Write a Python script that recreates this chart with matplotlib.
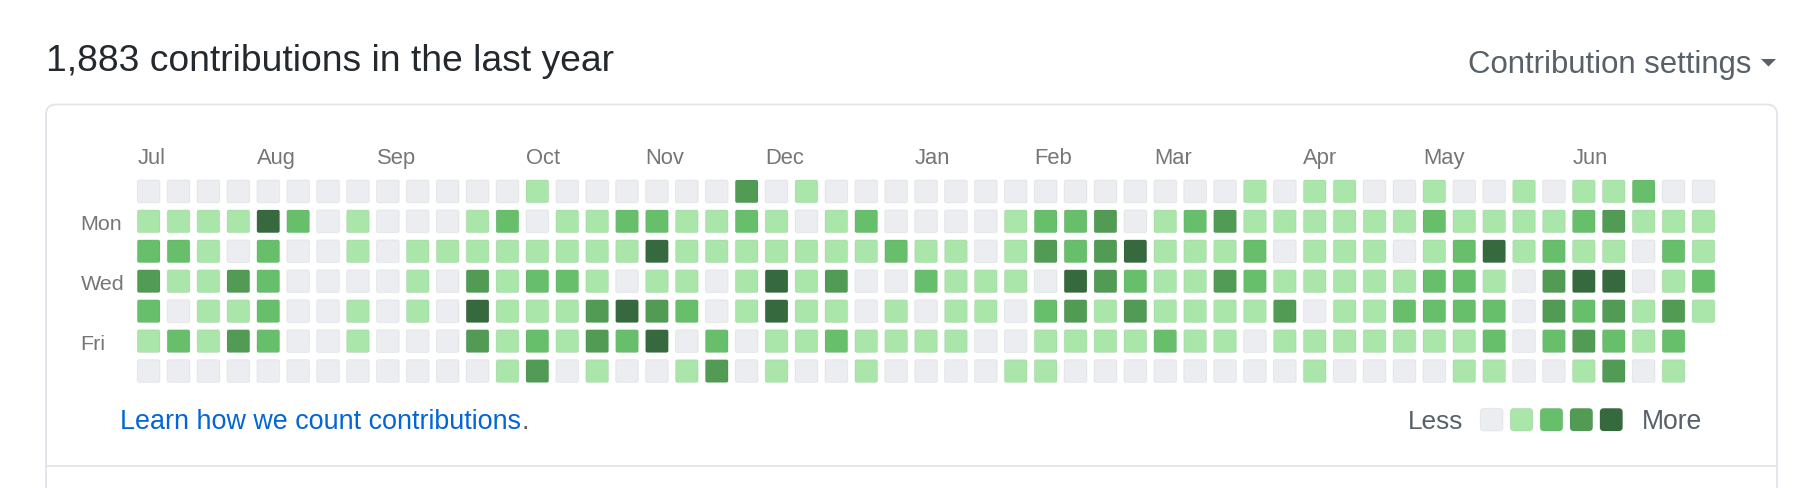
import matplotlib
matplotlib.use("Agg")
import matplotlib.pyplot as plt
from matplotlib.patches import FancyBboxPatch, Polygon
from matplotlib.lines import Line2D

plt.rcParams['font.family'] = ['Liberation Sans', 'DejaVu Sans']

# ---------------- data ----------------
title = "1,883 contributions in the last year"
months = ["Jul", "Aug", "Sep", "Oct", "Nov", "Dec", "Jan", "Feb", "Mar", "Apr", "May", "Jun"]
month_cols = [0, 4, 8, 13, 17, 21, 26, 30, 34, 39, 43, 48]
day_labels = {1: "Mon", 3: "Wed", 5: "Fri"}

sun = [0,0,0,0,0,0,0,0,0,0,0,0,0,1,0,0,0,0,0,0,3,0,1,0,0,0,0,0,0,0,0,0,0,0,0,0,0,1,0,1,1,0,0,1,0,0,1,0,1,1,2,0,0]
mon = [1,1,1,1,4,2,0,1,0,0,0,1,2,0,1,1,2,2,1,1,2,1,0,1,2,0,0,0,0,1,2,2,3,0,1,2,3,1,1,1,1,1,1,2,1,1,1,1,2,3,1,1,1]
tue = [2,2,1,0,2,0,0,1,0,1,1,1,1,1,1,1,1,4,1,1,1,1,1,1,1,2,1,1,0,1,3,2,3,4,1,1,1,2,0,1,1,1,0,1,2,4,1,2,1,1,0,2,1]
wed = [3,1,1,3,2,0,0,0,0,1,0,3,1,2,2,1,0,1,1,0,1,4,1,3,0,0,2,1,1,1,0,4,3,2,1,1,3,2,1,1,1,1,1,2,2,1,0,3,4,4,0,1,2]
thu = [2,0,1,1,2,0,0,1,0,1,0,4,1,1,1,3,4,3,2,0,1,4,1,1,0,1,0,1,1,0,2,3,1,3,1,1,1,1,3,0,1,1,2,2,2,2,0,3,2,3,1,3,1]
fri = [1,2,1,3,2,0,0,1,0,0,0,3,1,2,1,3,2,4,0,2,0,1,1,2,1,1,1,1,0,0,1,1,1,1,2,1,1,0,1,1,1,1,1,1,1,2,0,2,3,2,1,2,None]
sat = [0,0,0,0,0,0,0,0,0,0,0,0,1,3,0,1,0,0,1,3,0,1,0,0,1,0,0,0,0,1,1,0,0,0,0,0,0,0,0,1,0,0,0,0,1,1,0,0,1,3,0,1,None]
weeks_rows = [sun, mon, tue, wed, thu, fri, sat]

level_colors = ["#ebedf0", "#aae5aa", "#67bf6b", "#519b55", "#366a3e"]

# ---------------- layout (pixels) ----------------
W, H = 1796, 488
fig = plt.figure(figsize=(W / 100, H / 100), dpi=100)
fig.patch.set_facecolor("white")

def pt(px):
    return px * 0.72

# background axes in pixel coordinates
bg = fig.add_axes([0, 0, 1, 1])
bg.set_xlim(0, W)
bg.set_ylim(H, 0)
bg.axis("off")

border = "#e1e4e8"
box = FancyBboxPatch((46, 104.5), 1777 - 46, 430, boxstyle="round,pad=0,rounding_size=10",
                     facecolor="none", edgecolor=border, linewidth=1.3)
bg.add_patch(box)
bg.add_line(Line2D([46, 1777], [466, 466], color=border, linewidth=1.3))

bg.text(46, 71, title, fontsize=pt(37.2), color="#24292e", va="baseline", ha="left")
bg.text(1751, 73.3, "Contribution settings", fontsize=pt(31.2), color="#586069",
        va="baseline", ha="right")
bg.add_patch(Polygon([[1761, 59], [1776, 59], [1768.5, 66.5]], closed=True,
                     facecolor="#586069", edgecolor="none"))

learn = bg.text(120, 429, "Learn how we count contributions", fontsize=pt(26.9),
                color="#0366d6", va="baseline", ha="left")
fig.canvas.draw()
bb = learn.get_window_extent()
x_end = bg.transData.inverted().transform((bb.x1, bb.y0))[0]
bg.text(x_end, 429, ".", fontsize=pt(26.9), color="#586069", va="baseline", ha="left")

bg.text(1408.3, 429, "Less", fontsize=pt(26.2), color="#586069", va="baseline", ha="left")
bg.text(1642.3, 429, "More", fontsize=pt(26.5), color="#586069", va="baseline", ha="left")

# grid axes: one data unit = one week column / one weekday row
gx0, gy0 = 137.3, 180.0
px_x, px_y = 29.9, 29.95
ncol = len(sun)
gw, gh = ncol * px_x, 7 * px_y
ax = fig.add_axes([gx0 / W, 1 - (gy0 + gh) / H, gw / W, gh / H])
ax.set_xlim(0, ncol)
ax.set_ylim(7, 0)
ax.axis("off")

cell = 22.7 / px_x
edge = (27 / 255, 31 / 255, 35 / 255, 0.06)
for r, row in enumerate(weeks_rows):
    for c, lvl in enumerate(row):
        if lvl is None:
            continue
        ax.add_patch(FancyBboxPatch((c, r), cell, cell,
                                    boxstyle="round,pad=0,rounding_size=0.06",
                                    facecolor=level_colors[lvl], edgecolor=edge,
                                    linewidth=0.72, clip_on=False))

for name, c in zip(months, month_cols):
    ax.text(c, (164.3 - gy0) / px_y, name, fontsize=pt(22), color="#767676",
            va="baseline", ha="left", clip_on=False)

for r, name in day_labels.items():
    ax.text((80.5 - gx0) / px_x, r + 0.68, name, fontsize=pt(21.5), color="#767676",
            va="baseline", ha="left", clip_on=False)

# legend squares
ly = (408.3 - gy0) / px_y
lx = (1480.3 - gx0) / px_x
for i, col in enumerate(level_colors):
    ax.add_patch(FancyBboxPatch((lx + i, ly), cell, cell,
                                boxstyle="round,pad=0,rounding_size=0.13",
                                facecolor=col, edgecolor=edge, linewidth=0.72,
                                clip_on=False))

fig.savefig("out.png", dpi=100, facecolor="white")
